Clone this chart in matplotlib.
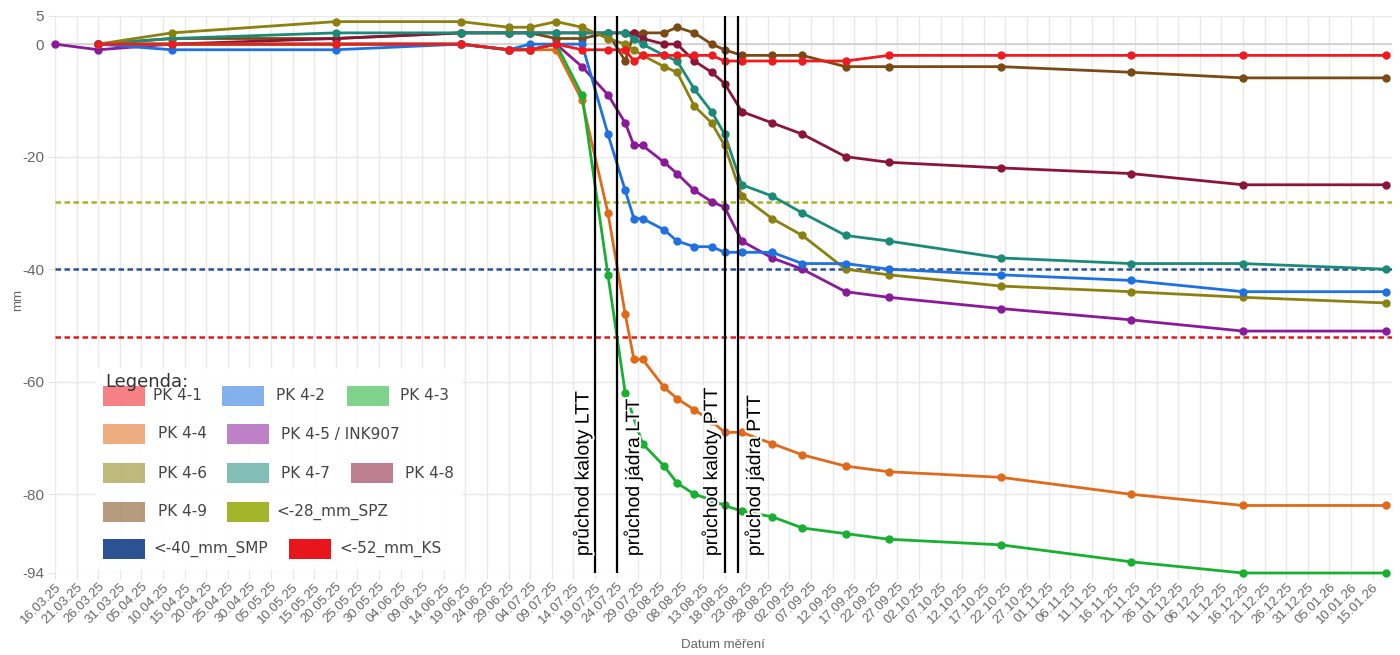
import matplotlib
matplotlib.use('Agg')
import matplotlib.pyplot as plt
import matplotlib.dates as mdates
import matplotlib.patheffects as pe
from matplotlib.patches import Rectangle
from matplotlib.colors import to_rgba
import numpy as np
import pandas as pd

# DATA (mm)
dates = ['16.03.25', '26.03.25', '12.04.25', '20.05.25', '18.06.25', '29.06.25', '04.07.25',
         '10.07.25', '16.07.25', '22.07.25', '26.07.25', '28.07.25', '30.07.25', '04.08.25',
         '07.08.25', '11.08.25', '15.08.25', '18.08.25', '22.08.25', '29.08.25', '05.09.25',
         '15.09.25', '25.09.25', '21.10.25', '20.11.25', '16.12.25', '18.01.26']

pk_4_1 = [None, 0, 0, 0, 0, -1, -1, 0, -1, -1, -1, -3, -2, -2, -2, -2, -2, -3, -3, -3, -3, -3, -2, -2, -2, -2, -2]
pk_4_2 = [None, 0, -1, -1, 0, -1, 0, 0, 0, -16, -26, -31, -31, -33, -35, -36, -36, -37, -37, -37, -39, -39, -40, -41, -42, -44, -44]
pk_4_3 = [None, 0, 0, 0, 0, -1, -1, 0, -9, -41, -62, None, -71, -75, -78, -80, -81, -82, -83, -84, -86, -87, -88, -89, -92, -94, -94]
pk_4_4 = [None, 0, 0, 0, 0, -1, -1, -1, -10, -30, -48, -56, -56, -61, -63, -65, -67, -69, -69, -71, -73, -75, -76, -77, -80, -82, -82]
pk_4_5 = [0, -1, 0, 0, 0, -1, -1, 0, -4, -9, -14, -18, -18, -21, -23, -26, -28, -29, -35, -38, -40, -44, -45, -47, -49, -51, -51]
pk_4_6 = [None, 0, 2, 4, 4, 3, 3, 4, 3, 1, 0, -1, -2, -4, -5, -11, -14, -18, -27, -31, -34, -40, -41, -43, -44, -45, -46]
pk_4_7 = [None, 0, 1, 2, 2, 2, 2, 2, 2, 2, 2, 1, 0, -2, -3, -8, -12, -16, -25, -27, -30, -34, -35, -38, -39, -39, -40]
pk_4_8 = [None, 0, 0, 1, 2, 2, 2, 2, 2, 2, 2, 2, 1, 0, 0, -3, -5, -7, -12, -14, -16, -20, -21, -22, -23, -25, -25]
pk_4_9 = [None, 0, 1, 1, 2, 2, 2, 1, 1, 2, -3, 2, 2, 2, 3, 2, 0, -1, -2, -2, -2, -4, -4, -4, -5, -6, -6]

series_names = ['PK 4-1', 'PK 4-2', 'PK 4-3', 'PK 4-4', 'PK 4-5 / INK907',
                'PK 4-6', 'PK 4-7', 'PK 4-8', 'PK 4-9']
series_values = [pk_4_1, pk_4_2, pk_4_3, pk_4_4, pk_4_5, pk_4_6, pk_4_7, pk_4_8, pk_4_9]
series_colors = ['#f01a1f', '#1f70e0', '#17b030', '#e06a1a', '#8a1a9a',
                 '#8c8010', '#1b8a78', '#8a1538', '#7a4a14']

threshold_names = ['<-28_mm_SPZ', '<-40_mm_SMP', '<-52_mm_KS']
threshold_values = [-28, -40, -52]
threshold_colors = ['#a3b52a', '#2b5394', '#e8161c']

event_dates = ['19.07.25', '24.07.25', '18.08.25', '21.08.25']
event_labels = ['průchod kaloty LTT', 'průchod jádra LTT', 'průchod kaloty PTT', 'průchod jádra PTT']
event_label_offsets = [-12, 17, -13, 17]  # pixels from the line

y_ticks = [5, 0, -20, -40, -60, -80, -94]

# FIGURE
W, H = 1400, 655
fig = plt.figure(figsize=(W / 100, H / 100), dpi=100)
fig.set_facecolor('white')

def fx(px):  # pixel -> figure fraction
    return px / W

def fy(py):
    return 1 - py / H

ax = fig.add_axes([fx(55), fy(573), fx(1392) - fx(55), fy(16) - fy(573)])

x = pd.to_datetime(dates, format='%d.%m.%y')
start = x[0]
ax.set_xlim(start, start + pd.Timedelta(days=309.5))
ax.set_ylim(-94, 5)

tick_dates = pd.date_range(start, periods=62, freq='5D')
ax.set_xticks(tick_dates)
ax.set_xticklabels([d.strftime('%d.%m.%y') for d in tick_dates], rotation=45,
                   ha='right', rotation_mode='anchor', fontsize=9.5, color='#666666',
                   family='Liberation Sans')
ax.set_yticks(y_ticks)
ax.set_yticklabels([str(v) for v in y_ticks], fontsize=11, color='#666666',
                   family='Liberation Sans')
ax.tick_params(axis='x', length=4, color='#e3e3e3', pad=1.5)
ax.tick_params(axis='y', length=5, color='#e3e3e3', pad=3)
for s in ax.spines.values():
    s.set_visible(False)
ax.grid(True, color='#e9e9e9', lw=1, zorder=0)
ax.set_axisbelow(True)
ax.axhline(0, color='#cfcfcf', lw=1.2, zorder=1)

# threshold lines
for v, c in zip(threshold_values, threshold_colors):
    ax.axhline(v, color=c, lw=1.8, ls=(0, (2.2, 1.4)), zorder=3)

# series, first one on top
for i in reversed(range(len(series_values))):
    v = np.array([np.nan if a is None else a for a in series_values[i]], dtype=float)
    m = ~np.isnan(v)
    ax.plot(x[m], v[m], '-o', color=series_colors[i], lw=2.0, ms=5,
            zorder=20 - i, clip_on=False)

# events
for d, lab, off in zip(event_dates, event_labels, event_label_offsets):
    xd = pd.to_datetime(d, format='%d.%m.%y')
    ax.axvline(xd, color='black', lw=1.6, zorder=30)
    ax.annotate(lab, xy=(mdates.date2num(xd), -91), xytext=(off, 0),
                textcoords='offset pixels', rotation=90, ha='center', va='bottom',
                fontsize=14, family='Liberation Sans', color='black', zorder=31,
                path_effects=[pe.withStroke(linewidth=3, foreground='white')])

# axis titles
fig.text(fx(723), fy(645), 'Datum měření', ha='center', va='center',
         fontsize=9.5, color='#666666', family='Liberation Sans')
fig.text(fx(18), fy(300), 'mm', ha='center', va='center', rotation=90,
         fontsize=9.5, color='#666666', family='Liberation Sans')

# legend (manual, flow layout like the original)
fig.add_artist(Rectangle((fx(95), fy(570)), fx(462) - fx(95), fy(368) - fy(570),
                         transform=fig.transFigure, facecolor='white', alpha=0.88,
                         edgecolor='none', zorder=40))
fig.text(fx(105), fy(382), 'Legenda:', ha='left', va='center', fontsize=13,
         color='#333333', zorder=41)

legend_colors = dict(zip(series_names, [to_rgba(c, 0.55) for c in series_colors]))
legend_colors.update(dict(zip(threshold_names, threshold_colors)))
legend_rows = [
    (396, [('PK 4-1', 103, 153), ('PK 4-2', 222, 276), ('PK 4-3', 347, 400)]),
    (434, [('PK 4-4', 103, 158), ('PK 4-5 / INK907', 227, 281)]),
    (473, [('PK 4-6', 103, 158), ('PK 4-7', 227, 281), ('PK 4-8', 351, 405)]),
    (512, [('PK 4-9', 103, 158), ('<-28_mm_SPZ', 227, 276)]),
    (549, [('<-40_mm_SMP', 103, 153), ('<-52_mm_KS', 289, 339)]),
]
for yc, entries in legend_rows:
    for name, sx, tx in entries:
        fig.add_artist(Rectangle((fx(sx), fy(yc + 10)), fx(42), fy(0) - fy(20),
                                 transform=fig.transFigure, facecolor=legend_colors[name],
                                 edgecolor='none', zorder=41))
        fig.text(fx(tx), fy(yc), name, ha='left', va='center', fontsize=11,
                 color='#444444', zorder=42)

fig.savefig('out.png', dpi=100, facecolor='white')
